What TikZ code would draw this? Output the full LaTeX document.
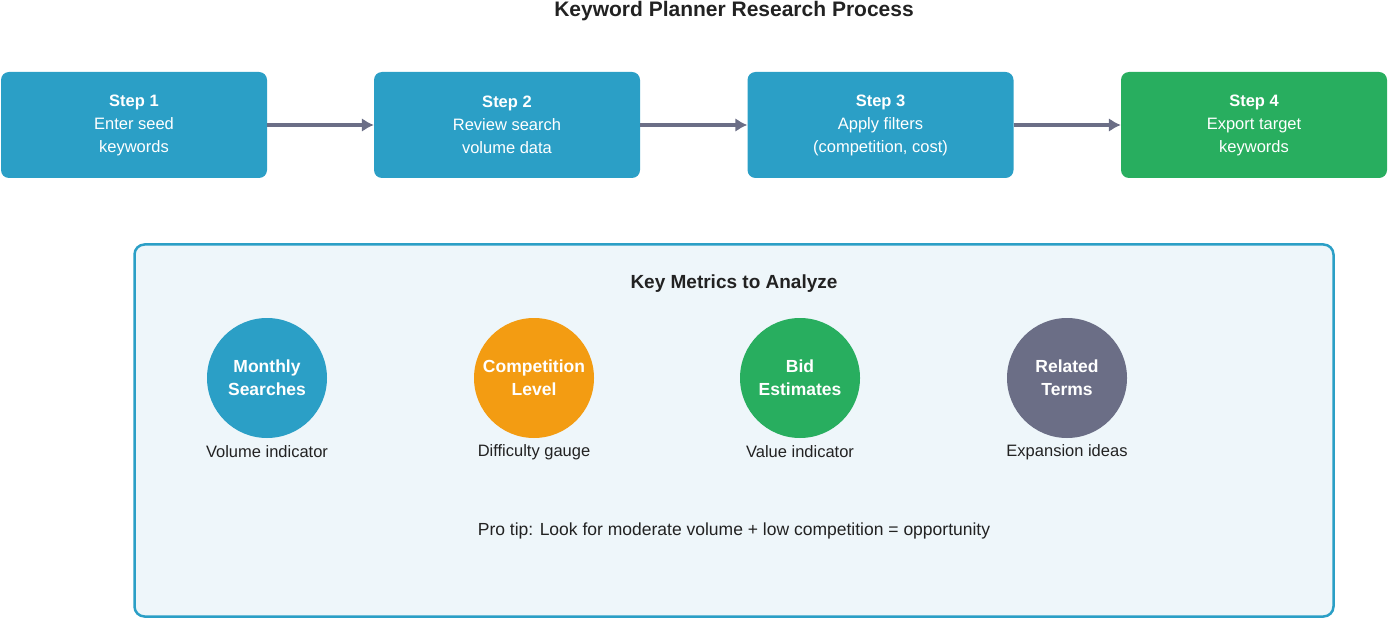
\documentclass[tikz,border=0pt]{standalone}
\usepackage{fontspec}
\setmainfont{Liberation Sans}
\usetikzlibrary{arrows.meta}
\begin{document}
\begin{tikzpicture}[x=1pt,y=-1pt,
 stepbox/.style={draw=none,rounded corners=8pt,minimum width=266pt,minimum height=106pt,text=white,align=center,font=\fontsize{16.5}{23}\selectfont},
 arr/.style={draw=arrowc,line width=3.5pt,-{Latex[length=12pt,width=14pt]}},
 metric/.style={circle,minimum size=120pt,inner sep=0pt,text=white,align=center,font=\bfseries\fontsize{17.5}{23}\selectfont},
 lab/.style={font=\fontsize{16.5}{20}\selectfont,text=darkt}]
\definecolor{bluec}{HTML}{2B9FC6}
\definecolor{greenc}{HTML}{28AE5F}
\definecolor{orangec}{HTML}{F39C12}
\definecolor{grayc}{HTML}{6B6E86}
\definecolor{arrowc}{HTML}{6B6E86}
\definecolor{darkt}{HTML}{222222}
\definecolor{panel}{HTML}{EEF6FA}
\useasboundingbox (0,0) rectangle (1388,620);
\node[font=\bfseries\fontsize{21}{25}\selectfont,text=darkt] (title) at (734,11) {Keyword Planner Research Process};
\node[stepbox,fill=bluec] (s1) at (134,125) {\textbf{Step 1}\\Enter seed\\keywords};
\node[stepbox,fill=bluec] (s2) at (507,125) {\textbf{Step 2}\\Review search\\volume data};
\node[stepbox,fill=bluec] (s3) at (880.5,125) {\textbf{Step 3}\\Apply filters\\(competition, cost)};
\node[stepbox,fill=greenc] (s4) at (1254,125) {\textbf{Step 4}\\Export target\\keywords};
\draw[arr] (s1) -- (s2);
\draw[arr] (s2) -- (s3);
\draw[arr] (s3) -- (s4);
\node[draw=bluec,fill=panel,line width=2.5pt,rounded corners=10pt,minimum width=1199pt,minimum height=372pt] (panel) at (734,430.5) {};
\node[font=\bfseries\fontsize{19}{23}\selectfont,text=darkt] (head) at (734,284) {Key Metrics to Analyze};
\node[metric,fill=bluec] (m1) at (267,378) {Monthly\\Searches};
\node[metric,fill=orangec] (m2) at (534,378) {Competition\\Level};
\node[metric,fill=greenc] (m3) at (800,378) {Bid\\Estimates};
\node[metric,fill=grayc] (m4) at (1067,378) {Related\\Terms};
\node[lab] (l1) at (267,452) {Volume indicator};
\node[lab] (l2) at (534,452) {Difficulty gauge};
\node[lab] (l3) at (800,452) {Value indicator};
\node[lab] (l4) at (1067,452) {Expansion ideas};
\node[lab,font=\fontsize{17.5}{21}\selectfont] (tip) at (734,531) {Pro tip: Look for moderate volume + low competition = opportunity};
\end{tikzpicture}
\end{document}
